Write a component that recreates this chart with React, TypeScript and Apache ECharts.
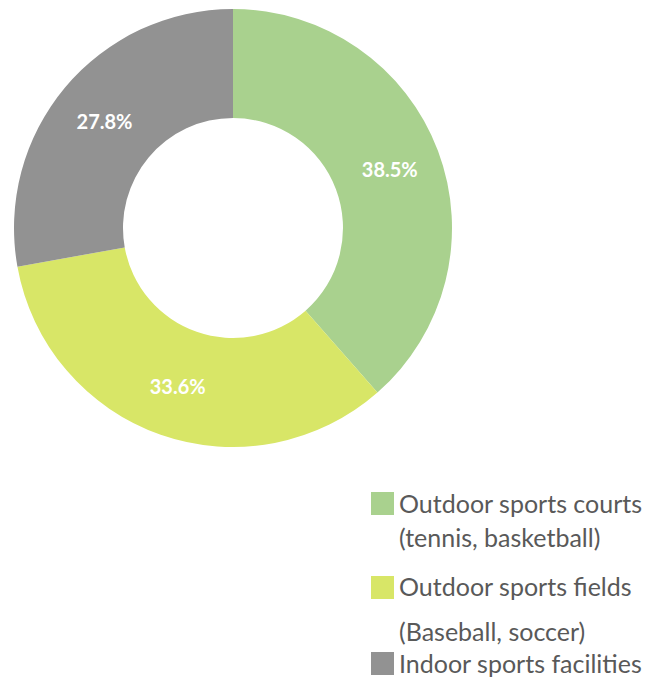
import React, { useEffect, useRef } from "react";
import * as echarts from "echarts";

const categories = ["Outdoor sports courts", "Outdoor sports fields", "Indoor sports facilities"];
const values = [38.5, 33.6, 27.8];
const colors = ["#A9D18E", "#D8E667", "#929292"];
const legendLines = [
  ["Outdoor sports courts", "(tennis, basketball)"],
  ["Outdoor sports fields", "", "(Baseball, soccer)"],
  ["Indoor sports facilities"],
];

export default function App() {
  const ref = useRef<HTMLDivElement>(null);
  useEffect(() => {
    document.body.style.margin = "0";
    const chart = echarts.init(ref.current!, null, { renderer: "svg" });
    const font = "Lato, 'Open Sans', sans-serif";
    const legendTop = [492, 576, 652];
    const lineYs = [
      [503, 537],
      [586, 0, 631],
      [663],
    ];
    const graphic: any[] = [];
    categories.forEach((c, i) => {
      graphic.push({
        type: "rect",
        left: 371,
        top: legendTop[i],
        shape: { width: 23, height: 23 },
        style: { fill: colors[i] },
      });
      legendLines[i].forEach((t, j) => {
        if (!t) return;
        graphic.push({
          type: "text",
          x: 399,
          y: lineYs[i][j],
          style: {
            text: t,
            fill: "#595959",
            font: `25px ${font}`,
            textVerticalAlign: "middle",
            textAlign: "left",
          },
        });
      });
    });
    chart.setOption({
      animation: false,
      graphic,
      series: [
        {
          type: "pie",
          center: [233, 228],
          radius: [110, 219],
          startAngle: 90,
          clockwise: true,
          label: {
            show: true,
            position: "inside",
            formatter: (p: any) => p.value + "%",
            color: "#ffffff",
            fontWeight: "bold",
            fontSize: 20,
            fontFamily: font,
          },
          labelLine: { show: false },
          itemStyle: { borderWidth: 0 },
          emphasis: { disabled: true },
          data: categories.map((c, i) => ({
            name: c,
            value: values[i],
            itemStyle: { color: colors[i] },
          })),
        },
      ],
    });
    return () => chart.dispose();
  }, []);
  return <div ref={ref} style={{ width: 660, height: 677 }} />;
}
